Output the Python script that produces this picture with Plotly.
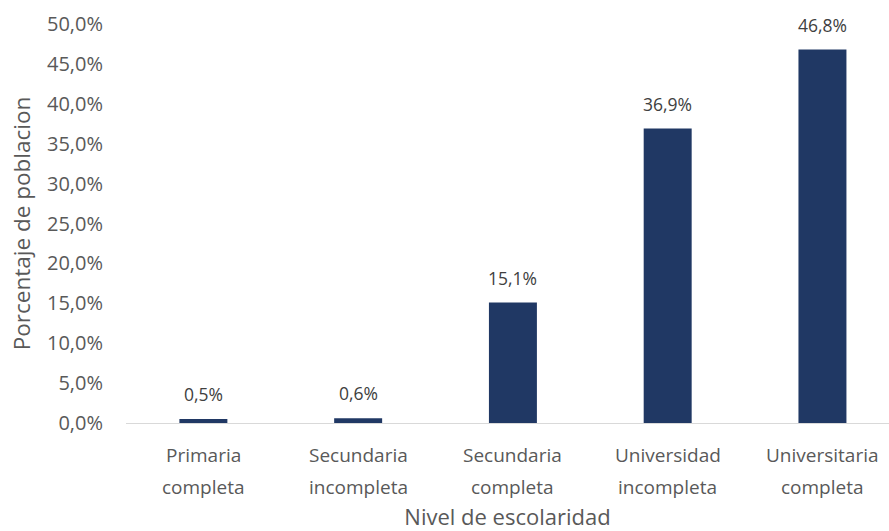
import plotly.graph_objects as go

categorias = ["Primaria<br>completa", "Secundaria<br>incompleta", "Secundaria<br>completa",
              "Universidad<br>incompleta", "Universitaria<br>completa"]
porcentajes = [0.5, 0.6, 15.1, 36.9, 46.8]
y_ticks = [0, 5, 10, 15, 20, 25, 30, 35, 40, 45, 50]
y_ticktext = [f"{v:.1f}%".replace(".", ",") for v in y_ticks]
etiquetas = [f"{v:.1f}%".replace(".", ",") for v in porcentajes]

FONT = "Open Sans"
GRAY = "#595959"

fig = go.Figure(go.Bar(
    x=categorias, y=porcentajes,
    marker=dict(color="#203864", line=dict(width=0)),
    width=0.31,
    hoverinfo="skip",
))

# data labels
for c, v, t in zip(categorias, porcentajes, etiquetas):
    fig.add_annotation(x=c, y=v, text=t, showarrow=False, yanchor="middle", yshift=25,
                       font=dict(family=FONT, size=17.5, color="#404040"))

# category labels (two lines)
for c in categorias:
    l1, l2 = c.split("<br>")
    for txt, sh in ((l1, -32), (l2, -64)):
        fig.add_annotation(x=c, y=0, yref="paper", text=txt, showarrow=False,
                           yanchor="middle", yshift=sh,
                           font=dict(family=FONT, size=19, color=GRAY))

fig.update_layout(
    width=889, height=531,
    margin=dict(l=126, r=0, t=24, b=108),
    plot_bgcolor="white", paper_bgcolor="white",
    showlegend=False,
    font=dict(family=FONT, color=GRAY),
    xaxis=dict(
        range=[-0.5, 4.43],
        showline=True, linecolor="#D9D9D9", linewidth=1,
        ticks="", showticklabels=False, automargin=False,
        title=dict(text="Nivel de escolaridad", font=dict(size=22, color=GRAY), standoff=89),
    ),
    yaxis=dict(
        range=[0, 50], tickmode="array", tickvals=y_ticks, ticktext=y_ticktext,
        showgrid=False, zeroline=False, showline=False,
        tickfont=dict(size=20, color=GRAY),
        ticklabelstandoff=22, automargin=False,
        title=dict(text="Porcentaje de poblacion", font=dict(size=22.5, color=GRAY), standoff=10),
    ),
)

fig.write_html("out.html")
